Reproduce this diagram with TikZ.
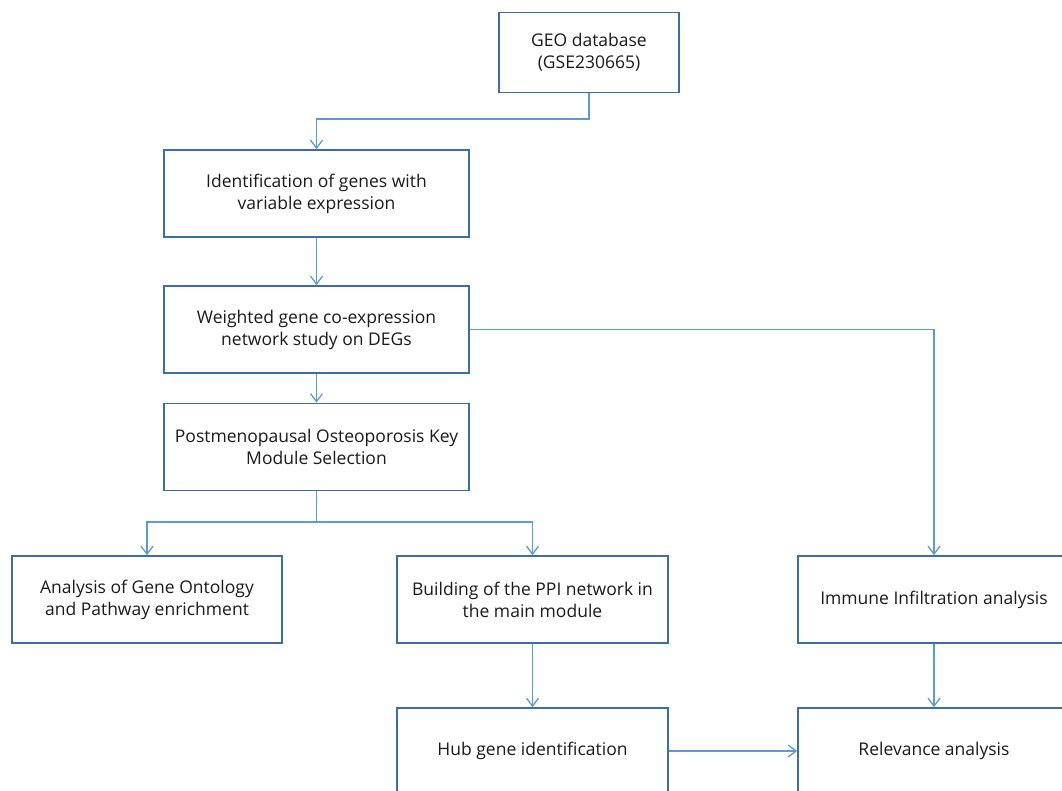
\documentclass[tikz,border=0pt]{standalone}
\usepackage{fontspec}
\setmainfont{Open Sans}
\usetikzlibrary{arrows.meta}
\definecolor{boxblue}{HTML}{3A6EA5}
\definecolor{linkblue}{HTML}{5B9BD5}
\definecolor{txt}{HTML}{1A1A1A}
\tikzset{
  box/.style={draw=boxblue, line width=1.6pt, inner sep=0pt, align=center,
    text=txt, font=\fontsize{17.5}{22}\selectfont},
  link/.style={draw=linkblue, line width=1.3pt},
  arr/.style={link, -{Straight Barb[length=8pt,width=12pt,line width=1.3pt]}}
}
\begin{document}
\begin{tikzpicture}[x=1pt,y=-1pt]
\useasboundingbox (0,0) rectangle (1062,790);
\clip (0,0) rectangle (1062,790);
\node[box, minimum width=180pt, minimum height=80pt] (geo) at (589,52.5) {GEO database\\(GSE230665)};
\node[box, minimum width=305pt, minimum height=87pt] (ident) at (316.5,193.5) {Identification of genes with\\variable expression};
\node[box, minimum width=305pt, minimum height=87pt] (weighted) at (316.5,329.5) {Weighted gene co-expression\\network study on DEGs};
\node[box, minimum width=305pt, minimum height=87pt] (post) at (316.5,447) {Postmenopausal Osteoporosis Key\\Module Selection};
\node[box, minimum width=270pt, minimum height=87pt] (analysis) at (147,599.5) {Analysis of Gene Ontology\\and Pathway enrichment};
\node[box, minimum width=271pt, minimum height=87pt] (building) at (532.5,599.5) {Building of the PPI network in\\the main module};
\node[box, minimum width=272pt, minimum height=87pt] (immune) at (934,599.5) {Immune Infiltration analysis};
\node[box, minimum width=271pt, minimum height=86pt] (hub) at (532.5,751) {Hub gene identification};
\node[box, minimum width=272pt, minimum height=86pt] (relev) at (934,751) {Relevance analysis};
\coordinate (j1) at (316.5,119);
\coordinate (j2) at (316.5,522);
\draw[arr] (geo.south) |- (j1) -- (ident.north);
\draw[arr] (ident.south) -- (weighted.north);
\draw[arr] (weighted.south) -- (post.north);
\draw[arr] (weighted.east) -| (immune.north);
\draw[link] (post.south) -- (j2);
\draw[arr] (j2) -| (analysis.north);
\draw[arr] (j2) -| (building.north);
\draw[arr] (building.south) -- (hub.north);
\draw[arr] (immune.south) -- (relev.north);
\draw[arr] (hub.east) -- (relev.west);
\end{tikzpicture}
\end{document}
